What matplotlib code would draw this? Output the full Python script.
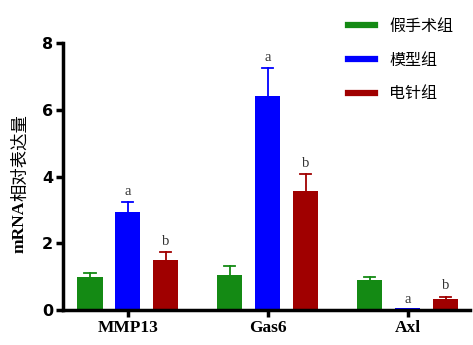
import matplotlib
matplotlib.use("Agg")
import matplotlib.pyplot as plt
from matplotlib.lines import Line2D
import numpy as np

plt.rcParams['font.family'] = ['DejaVu Sans', 'Noto Sans CJK SC']

genes = ["MMP13", "Gas6", "Axl"]
groups = ["假手术组", "模型组", "电针组"]
colors = ["#148a14", "#0000ff", "#a00000"]

means = {
    "假手术组": [0.99, 1.05, 0.90],
    "模型组": [2.93, 6.42, 0.05],
    "电针组": [1.50, 3.57, 0.32],
}
errs = {
    "假手术组": [0.11, 0.27, 0.10],
    "模型组": [0.30, 0.83, 0.0],
    "电针组": [0.24, 0.50, 0.08],
}
# significance letters: (group, gene index, letter)
marks = [("模型组", 0, "a"), ("电针组", 0, "b"),
         ("模型组", 1, "a"), ("电针组", 1, "b"),
         ("模型组", 2, "a"), ("电针组", 2, "b")]

fig = plt.figure(figsize=(4.73, 3.45), dpi=100)
ax = fig.add_axes([0.133, 0.101, 0.86, 0.774])

x = np.arange(len(genes))
offset = 0.271
width = 0.18
for i, g in enumerate(groups):
    pos = x + (i - 1) * offset
    ax.bar(pos, means[g], width, color=colors[i], zorder=2)
    # upper error bar only
    for p, m, e in zip(pos, means[g], errs[g]):
        if e > 0:
            ax.plot([p, p], [m, m + e], color=colors[i], lw=1.3, zorder=3)
            ax.plot([p - 0.04, p + 0.04], [m + e, m + e], color=colors[i], lw=1.3, zorder=3)

for g, j, letter in marks:
    i = groups.index(g)
    top = means[g][j] + errs[g][j]
    yl = top + 0.12 if j < 2 else (0.12 if g == "模型组" else 0.55)
    ax.text(x[j] + (i - 1) * offset, yl, letter, ha="center", va="bottom",
            family="Liberation Serif", fontsize=10.5, color="#333333")

ax.set_xlim(-0.464, 0.443 + 2)
ax.set_ylim(0, 8)
ax.set_yticks([0, 2, 4, 6, 8])
ax.set_xticks(x)
ax.set_xticklabels(genes, family="Liberation Serif", fontweight="bold", fontsize=12.5)
for t in ax.get_yticklabels():
    t.set_fontweight("bold")
    t.set_fontsize(11.5)
ax.tick_params(axis="both", width=2.5, length=5, direction="out", pad=2)
ax.spines["top"].set_visible(False)
ax.spines["right"].set_visible(False)
ax.spines["left"].set_linewidth(2.5)
ax.spines["bottom"].set_linewidth(2.5)

# y label in two parts: bold serif "mRNA" + CJK text
renderer = fig.canvas.get_renderer()
lx = 20 / 473
t1 = fig.text(lx, (345 - 253) / 345, "mRNA", rotation=90,
              ha="center", va="bottom", family="Liberation Serif",
              fontweight="bold", fontsize=12.5)
bb = t1.get_window_extent(renderer)
fig.text(lx, bb.y1 / 345, "相对表达量", rotation=90, ha="center", va="bottom",
         family="Noto Sans CJK SC", fontsize=12.5)

handles = [Line2D([0], [0], color=c, lw=4.5) for c in colors]
fig.legend(handles, groups, loc="upper left", bbox_to_anchor=(0.705, 0.99),
           frameon=False, handlelength=1.7, handletextpad=0.9,
           labelspacing=1.05, prop={"family": "Noto Sans CJK SC", "size": 11.5})

fig.savefig("out.png", dpi=100)
